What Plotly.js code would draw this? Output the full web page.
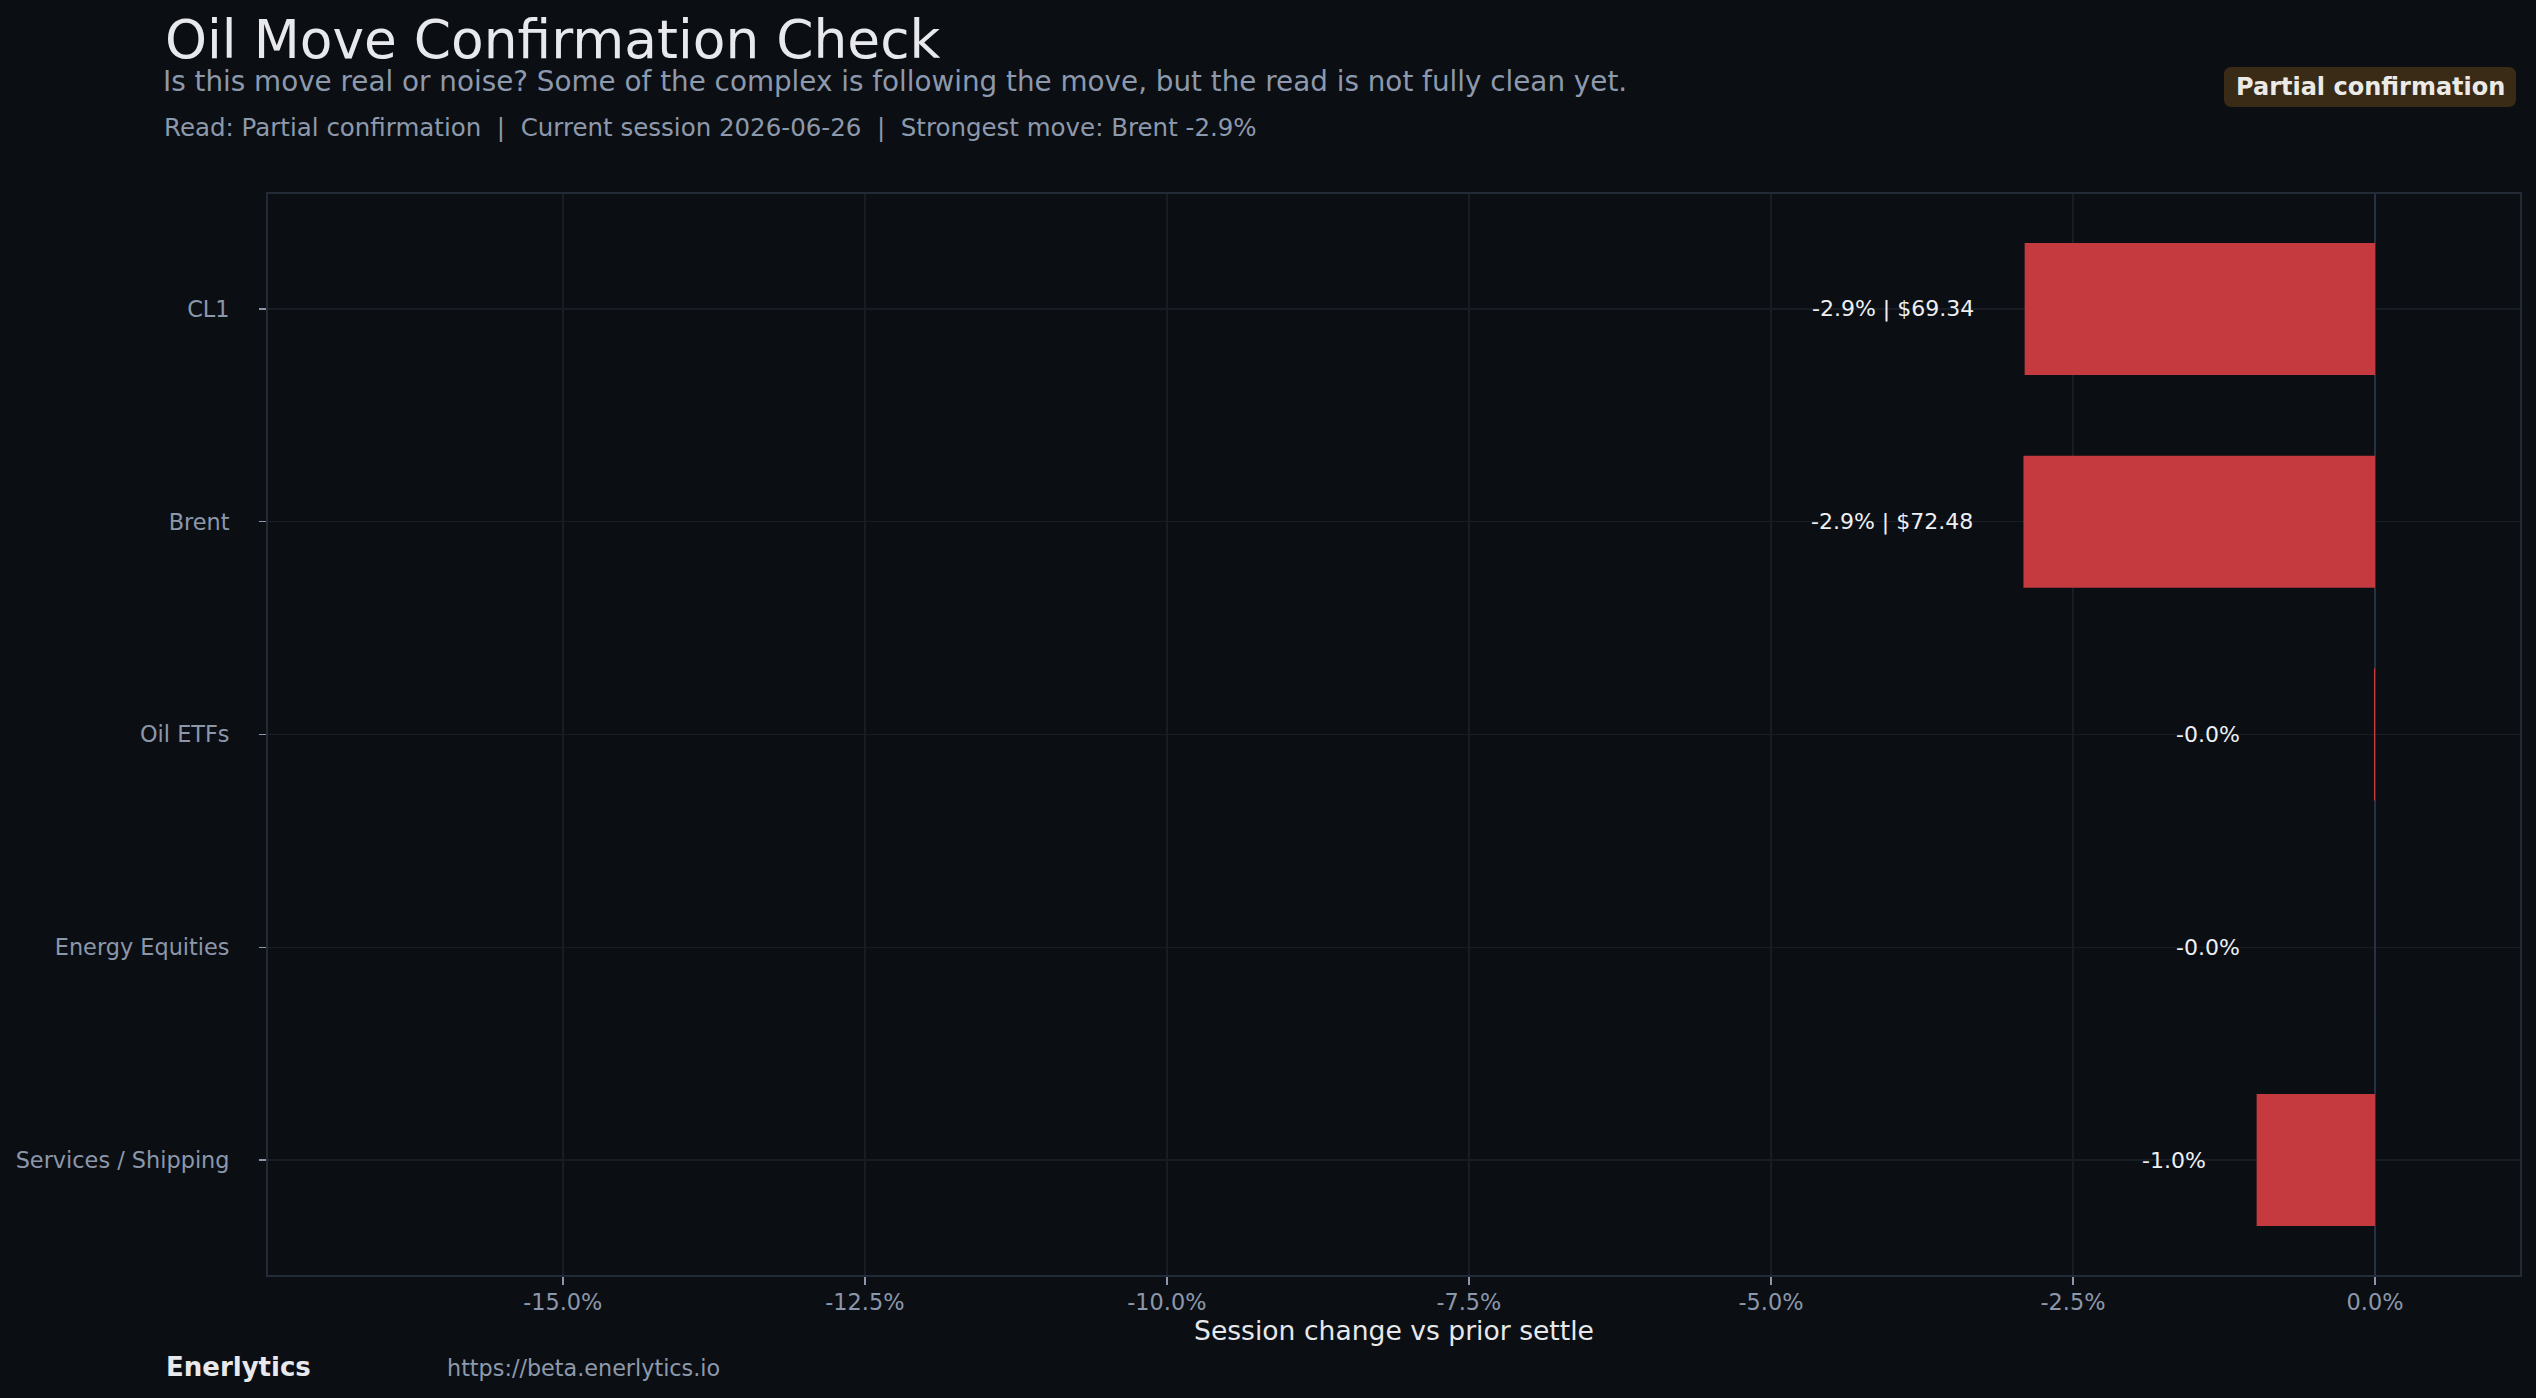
<!DOCTYPE html>
<html>
<head>
<meta charset="utf-8">
<script src="https://cdn.plot.ly/plotly-3.0.1.min.js"></script>
<style>
  html, body { margin: 0; padding: 0; background: #0b0e13; }
  #chart { width: 2536px; height: 1398px; }
</style>
</head>
<body>
<div id="chart"></div>
<script>
// ---- data ----
const categories = ["CL1", "Brent", "Oil ETFs", "Energy Equities", "Services / Shipping"];
const changePct = [-2.90, -2.91, -0.009, -0.0003, -0.98];
const lastPrice = [69.34, 72.48, null, null, null];
const tickVals = [-15, -12.5, -10, -7.5, -5, -2.5, 0];
const tickText = ["-15.0%", "-12.5%", "-10.0%", "-7.5%", "-5.0%", "-2.5%", "0.0%"];

const titleText = "Oil Move Confirmation Check";
const subtitleText = "Is this move real or noise? Some of the complex is following the move, but the read is not fully clean yet.";
const metaText = "Read: Partial confirmation  |  Current session 2026-06-26  |  Strongest move: Brent -2.9%";
const badgeText = "Partial confirmation";
const xTitle = "Session change vs prior settle";
const brandText = "Enerlytics";
const urlText = "https://beta.enerlytics.io";

// ---- layout helpers ----
const W = 2536, H = 1398;
const M = { l: 268, r: 16, t: 194, b: 123 };
const PW = W - M.l - M.r, PH = H - M.t - M.b;
const px2x = p => (p - M.l) / PW;
const py2y = p => 1 - (p - M.t) / PH;

const FONT = "DejaVu Sans, Verdana, sans-serif";

const labels = changePct.map((v, i) =>
  v.toFixed(1) + "%" + (lastPrice[i] != null ? " | $" + lastPrice[i].toFixed(2) : ""));

const annotations = [];
changePct.forEach((v, i) => {
  annotations.push({
    xref: "x", yref: "y", x: Math.min(v, -0.7) - 0.4, y: categories[i],
    text: labels[i], showarrow: false, xanchor: "right", yanchor: "middle",
    font: { family: FONT, size: 22, color: "#eef0f3" }
  });
});

function txt(text, xp, yp, size, color, opts) {
  return Object.assign({
    xref: "paper", yref: "paper", x: px2x(xp), y: py2y(yp), text: text,
    showarrow: false, xanchor: "left", yanchor: "middle",
    font: { family: FONT, size: size, color: color }
  }, opts || {});
}
annotations.push(txt(titleText, 163, 40, 53.4, "#e8e9ec"));
annotations.push(txt(subtitleText, 161, 82, 27.8, "#8d99ac"));
annotations.push(txt(metaText, 162, 127, 24.5, "#8d99ac"));
annotations.push(txt("<b>" + badgeText + "</b>", 2370, 87, 24, "#eceae6", { xanchor: "center" }));
annotations.push(txt("<b>" + brandText + "</b>", 164, 1367, 26, "#e8e9ec"));
annotations.push(txt(urlText, 445, 1368, 22.3, "#8d99ac"));

// rounded badge box
const bx0 = px2x(2224), bx1 = px2x(2516), by0 = py2y(107), by1 = py2y(67);
const rx = 8 / PW, ry = 8 / PH;
const badgePath = `M ${bx0 + rx} ${by0} L ${bx1 - rx} ${by0} Q ${bx1} ${by0} ${bx1} ${by0 + ry} ` +
  `L ${bx1} ${by1 - ry} Q ${bx1} ${by1} ${bx1 - rx} ${by1} L ${bx0 + rx} ${by1} ` +
  `Q ${bx0} ${by1} ${bx0} ${by1 - ry} L ${bx0} ${by0 + ry} Q ${bx0} ${by0} ${bx0 + rx} ${by0} Z`;

const trace = {
  type: "bar", orientation: "h",
  x: changePct, y: categories,
  width: 0.62,
  marker: { color: "#c53a3e", line: { width: 0 } },
  hoverinfo: "x+y"
};

const layout = {
  width: W, height: H,
  margin: M,
  paper_bgcolor: "#0b0e13",
  plot_bgcolor: "#0b0e13",
  showlegend: false,
  font: { family: FONT, color: "#8d99ac" },
  xaxis: {
    range: [-17.44, 1.2],
    tickmode: "array", tickvals: tickVals, ticktext: tickText,
    tickfont: { family: FONT, size: 22.4, color: "#8b97aa" },
    ticks: "outside", ticklen: 8, tickwidth: 1.5, tickcolor: "#8b97aa",
    ticklabelstandoff: -2,
    showgrid: true, gridcolor: "#181d25", gridwidth: 1.5,
    zeroline: true, zerolinecolor: "#263142", zerolinewidth: 2,
    showline: true, linecolor: "#232b37", linewidth: 2, mirror: true,
    title: { text: xTitle, font: { family: FONT, size: 26.6, color: "#e6e8ec" }, standoff: 8 },
    fixedrange: true
  },
  yaxis: {
    type: "category",
    categoryorder: "array", categoryarray: categories,
    range: [4.54, -0.54],
    tickfont: { family: FONT, size: 22.4, color: "#8b97aa" },
    ticks: "outside", ticklen: 7, tickwidth: 1.5, tickcolor: "#8b97aa",
    ticklabelstandoff: 25,
    showgrid: true, gridcolor: "#181d25", gridwidth: 1.5,
    zeroline: false,
    showline: true, linecolor: "#232b37", linewidth: 2, mirror: true,
    fixedrange: true
  },
  shapes: [{
    type: "path", xref: "paper", yref: "paper", path: badgePath,
    fillcolor: "#3a2b16", line: { width: 0 }, layer: "below"
  }],
  annotations: annotations
};

Plotly.newPlot("chart", [trace], layout, { displayModeBar: false, staticPlot: true });
</script>
</body>
</html>
